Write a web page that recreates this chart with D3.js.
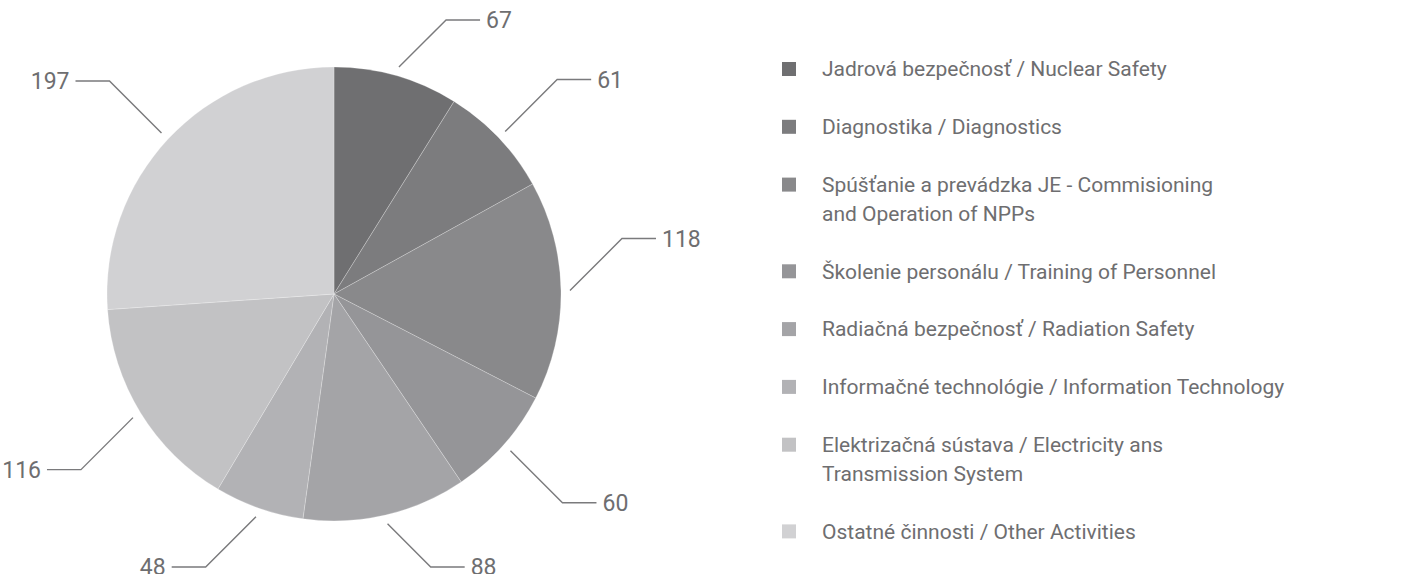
<!DOCTYPE html>
<html>
<head>
<meta charset="utf-8">
<script src="https://cdn.jsdelivr.net/npm/d3@7"></script>
<style>
  html, body { margin: 0; padding: 0; background: #ffffff; }
  svg { display: block; }
</style>
</head>
<body>
<svg id="chart" width="1401" height="574"></svg>
<script>
// ---- data ----
const categories = [
  "Jadrová bezpečnosť / Nuclear Safety",
  "Diagnostika / Diagnostics",
  "Spúšťanie a prevádzka JE - Commisioning\nand Operation of NPPs",
  "Školenie personálu / Training of Personnel",
  "Radiačná bezpečnosť / Radiation Safety",
  "Informačné technológie / Information Technology",
  "Elektrizačná sústava / Electricity ans\nTransmission System",
  "Ostatné činnosti / Other Activities"
];
const values = [67, 61, 118, 60, 88, 48, 116, 197];
const colors = ["#6f6f71", "#7c7c7e", "#89898b", "#959598", "#a4a4a7", "#b2b2b5", "#c2c2c4", "#d1d1d3"];

// ---- layout ----
const svg = d3.select("#chart");
const cx = 334, cy = 294, R = 227;
const fontFamily = "Roboto, 'Open Sans', sans-serif";
const textColor = "#6e6e70";

const data = categories.map((c, i) => ({ name: c, value: values[i], color: colors[i] }));

const pie = d3.pie().sort(null).value(d => d.value);
const arcs = pie(data);
const arc = d3.arc().innerRadius(0).outerRadius(R);

const g = svg.append("g").attr("transform", `translate(${cx},${cy})`);

g.selectAll("path.slice")
  .data(arcs)
  .join("path")
  .attr("class", "slice")
  .attr("d", arc)
  .attr("fill", d => d.data.color)
  .attr("stroke", "rgba(255,255,255,0.3)")
  .attr("stroke-width", 0.8);

// leader lines + value labels
const startR = 236, diag = 52, horiz = 34, gap = 6;
const yMin = 20 - cy, yMax = 567 - cy;
const labels = g.selectAll("g.lbl").data(arcs).join("g").attr("class", "lbl");

labels.each(function(d) {
  const a = (d.startAngle + d.endAngle) / 2;
  const sx = Math.sin(a) * startR, sy = -Math.cos(a) * startR;
  const right = Math.sin(a) >= 0;
  const down = -Math.cos(a) > 0;
  let ey = sy + (down ? diag : -diag);
  ey = Math.max(yMin, Math.min(yMax, ey));
  const len = Math.abs(ey - sy);
  const ex = sx + (right ? len : -len);
  const hx = ex + (right ? horiz : -horiz);
  const sel = d3.select(this);
  sel.append("path")
    .attr("d", d3.line()([[sx, sy], [ex, ey], [hx, ey]]))
    .attr("fill", "none")
    .attr("stroke", "#7a7a7c")
    .attr("stroke-width", 1.4);
  sel.append("text")
    .attr("x", hx + (right ? gap : -gap))
    .attr("y", ey)
    .attr("dy", "0.35em")
    .attr("text-anchor", right ? "start" : "end")
    .attr("font-family", fontFamily)
    .attr("font-size", 23)
    .attr("fill", textColor)
    .text(d.data.value);
});

// legend
const legendX = 782, textX = 822, firstCenter = 69, lineH = 28.9;
let yCursor = firstCenter;
const legend = svg.append("g");
data.forEach((d) => {
  const lines = d.name.split("\n");
  const item = legend.append("g");
  item.append("rect")
    .attr("x", legendX)
    .attr("y", yCursor - 7)
    .attr("width", 14)
    .attr("height", 14)
    .attr("fill", d.color);
  const t = item.append("text")
    .attr("font-family", fontFamily)
    .attr("font-size", 21)
    .attr("fill", textColor);
  lines.forEach((ln, j) => {
    t.append("tspan")
      .attr("x", textX)
      .attr("y", yCursor + j * lineH)
      .attr("dy", "0.35em")
      .text(ln);
  });
  yCursor += (lines.length + 1) * lineH;
});
</script>
</body>
</html>
